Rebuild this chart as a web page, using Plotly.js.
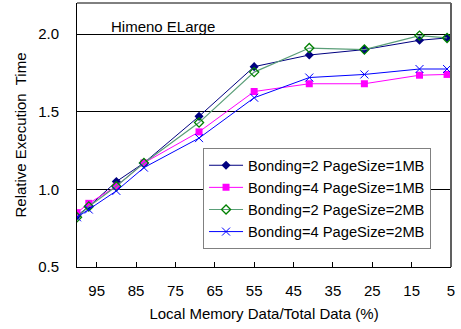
<!DOCTYPE html>
<html><head><meta charset="utf-8">
<script src="https://cdn.plot.ly/plotly-3.0.1.min.js"></script>
<style>body{margin:0;background:#fff}#chart{width:461px;height:329px}</style>
</head><body><div id="chart"></div>
<script>
const xPct = [100, 97, 90, 83, 69, 55, 41, 27, 13, 6];
const tickVals = [95, 85, 75, 65, 55, 45, 35, 25, 15, 5];
const seriesNames = ["Bonding=2 PageSize=1MB", "Bonding=4 PageSize=1MB", "Bonding=2 PageSize=2MB", "Bonding=4 PageSize=2MB"];
const b2p1 = [0.83, 0.89, 1.05, 1.17, 1.47, 1.79, 1.865, 1.90, 1.96, 1.975];
const b4p1 = [0.85, 0.91, 1.02, 1.17, 1.37, 1.63, 1.68, 1.68, 1.735, 1.74];
const b2p2 = [0.82, 0.89, 1.02, 1.17, 1.43, 1.755, 1.91, 1.90, 1.99, 1.975];
const b4p2 = [0.82, 0.87, 0.99, 1.14, 1.33, 1.59, 1.72, 1.74, 1.775, 1.775];

const F = "Liberation Sans, Arial, sans-serif";
const traces = [
  {x: xPct, y: b2p1, name: seriesNames[0], mode: "lines+markers",
   line: {color: "#000080", width: 1}, marker: {symbol: "diamond", size: 7, color: "#000080"}},
  {x: xPct, y: b4p1, name: seriesNames[1], mode: "lines+markers",
   line: {color: "#ff00ff", width: 1}, marker: {symbol: "square", size: 7, color: "#ff00ff"}},
  {x: xPct, y: b2p2, name: seriesNames[2], mode: "lines+markers",
   line: {color: "#5a9e78", width: 1.2}, marker: {symbol: "diamond-open", size: 7, color: "#008000", line: {width: 1.3, color: "#008000"}}},
  {x: xPct, y: b4p2, name: seriesNames[3], mode: "lines+markers",
   line: {color: "#0000ff", width: 1}, marker: {symbol: "x-thin-open", size: 8, color: "#0000ff", line: {width: 1, color: "#0000ff"}}}
];
const layout = {
  width: 461, height: 329,
  margin: {l: 77, r: 10, t: 3, b: 62},
  paper_bgcolor: "#fff", plot_bgcolor: "#fff",
  font: {family: F, size: 15, color: "#000"},
  showlegend: true,
  legend: {x: 0.337, y: 0.45, xanchor: "left", yanchor: "top", bgcolor: "#fff",
    bordercolor: "#808080", borderwidth: 1, font: {family: F, size: 14.7, color: "#000"},
    tracegroupgap: 0, itemwidth: 34},
  xaxis: {range: [100, 5], tickvals: tickVals, ticktext: tickVals.map(String),
    showgrid: false, zeroline: false, showline: true, linecolor: "#000", linewidth: 1,
    ticks: "inside", ticklen: 5, tickcolor: "#000", ticklabelstandoff: 10,
    title: {text: "Local Memory Data/Total Data (%)", font: {family: F, size: 15}, standoff: 10}},
  yaxis: {range: [0.5, 2.2], tickvals: [0.5, 1.0, 1.5, 2.0], ticktext: ["0.5", "1.0", "1.5", "2.0"],
    showgrid: true, gridcolor: "#000", gridwidth: 1, zeroline: false,
    showline: true, linecolor: "#000", linewidth: 1, ticks: "", ticklabelstandoff: 14,
    title: {text: "Relative Execution  Time", font: {family: F, size: 15}, standoff: 7}},
  shapes: [
    {type: "line", xref: "paper", yref: "paper", x0: 0, x1: 1, y0: 1, y1: 1, line: {color: "#000", width: 1}},
    {type: "line", xref: "paper", yref: "paper", x0: 1, x1: 1, y0: 0, y1: 1, line: {color: "#606060", width: 2}}
  ],
  annotations: [
    {text: "Himeno ELarge", xref: "x", yref: "y", x: 78.2, y: 2.05, showarrow: false,
     font: {family: F, size: 15, color: "#000"}}
  ]
};
Plotly.newPlot("chart", traces, layout, {displayModeBar: false, staticPlot: true});
</script></body></html>
